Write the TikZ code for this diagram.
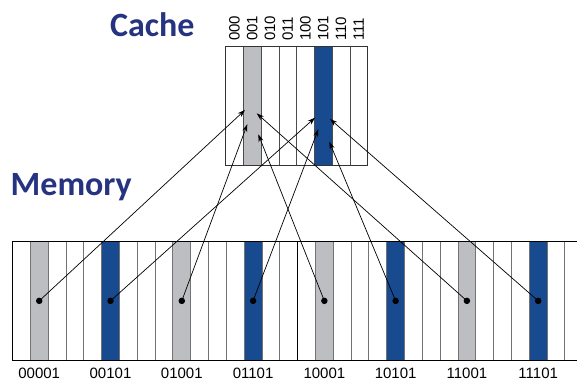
\documentclass[tikz,border=0pt]{standalone}
\usepackage{fontspec}
\setmainfont{Liberation Sans}
\newfontfamily\titlefont{Carlito}
\usetikzlibrary{arrows.meta}
\definecolor{cblue}{HTML}{174A8E}
\definecolor{cgray}{HTML}{BDBEC2}
\definecolor{ctitle}{HTML}{263380}
\begin{document}
\begin{tikzpicture}[x=1pt,y=-1pt,
  ccol/.style={draw=black!70, line width=0.9pt, minimum width=17.75pt, minimum height=118.3pt, inner sep=0pt, outer sep=0pt, anchor=north west},
  mcol/.style={draw=black!55, line width=0.9pt, minimum width=17.82pt, minimum height=118.3pt, inner sep=0pt, outer sep=0pt, anchor=north west},
  dot/.style={circle, fill=black, inner sep=0pt, minimum size=6.5pt},
  arr/.style={-{Stealth[length=7.5pt,width=5pt]}, line width=0.7pt, black},
  lab/.style={inner sep=0pt, font=\fontsize{15}{16}\selectfont},
  title/.style={inner sep=0pt, anchor=base west, text=ctitle, font=\titlefont\bfseries\fontsize{34}{40}\selectfont}]
\useasboundingbox (0,0) rectangle (577,380);
% titles
\node[title] (tc) at (110,36.7) {Cache};
\node[title] (tm) at (10.5,195) {Memory};
% cache
\foreach \i/\f/\t in {0/white/000,1/cgray/001,2/white/010,3/white/011,4/white/100,5/cblue/101,6/white/110,7/white/111}{
  \node[ccol,fill=\f] (c\i) at ({225.7+17.75*\i},46.7) {};
  \node[lab,rotate=90,anchor=west] (cl\i) at ({225.7+17.75*\i+8.875},41) {\t};
}
\draw[black!80, line width=1pt] (c0.north west) rectangle (c7.south east);
% memory
\begin{scope}
\clip (0,230) rectangle (577,366);
\foreach \k in {0,...,31}{
  \pgfmathtruncatemacro\r{mod(\k,8)}
  \ifnum\r=1 \def\fc{cgray}\else\ifnum\r=5 \def\fc{cblue}\else\def\fc{white}\fi\fi
  \node[mcol,fill=\fc] (m\k) at ({12.5+17.82*\k},241.7) {};
}
\draw[black, line width=1pt] (m31.north east) -- (m0.north west) -- (m0.south west) -- (m31.south east);
\draw[black, line width=1pt] (m16.north west) -- (m16.south west);
\end{scope}
% dots, labels
\foreach \k/\t in {1/00001,5/00101,9/01001,13/01101,17/10001,21/10101,25/11001,29/11101}{
  \node[dot] (d\k) at (m\k.center) {};
  \node[lab,anchor=base] (ml\k) at ({12.5+17.82*\k+8.91},378.3) {\t};
}
% arrow targets
\coordinate (t1) at (245,110);
\coordinate (t9) at (247.3,124.3);
\coordinate (t17) at (258.3,134.3);
\coordinate (t25) at (256.7,113.3);
\coordinate (t5) at (315,117.7);
\coordinate (t13) at (318.3,129.3);
\coordinate (t21) at (329.3,141.7);
\coordinate (t29) at (330,119);
\foreach \k in {1,5,9,13,17,21,25,29}{
  \draw[arr] (d\k.center) -- (t\k);
}
\end{tikzpicture}
\end{document}
